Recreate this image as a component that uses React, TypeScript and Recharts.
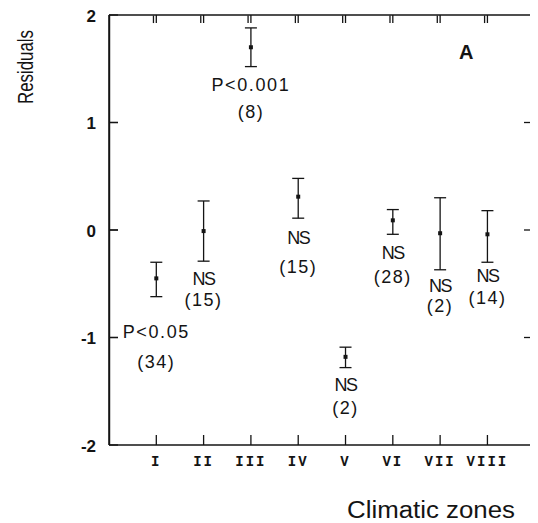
import React from "react";
import {
  ScatterChart,
  Scatter,
  XAxis,
  YAxis,
  ErrorBar,
  ReferenceDot,
  ReferenceLine,
} from "recharts";

// climatic zones on the x axis
const zones = ["I", "II", "III", "IV", "V", "VI", "VII", "VIII"];
const zonePos = [1, 2, 3, 4, 5, 6, 7, 8];

// residual means with upper / lower ends of the error bars
const means = [-0.45, -0.01, 1.7, 0.31, -1.18, 0.09, -0.03, -0.04];
const upper = [-0.3, 0.27, 1.88, 0.48, -1.09, 0.19, 0.3, 0.18];
const lower = [-0.62, -0.29, 1.52, 0.11, -1.28, -0.04, -0.37, -0.3];

// significance and sample size labels
const sigLabels = ["P<0.05", "NS", "P<0.001", "NS", "NS", "NS", "NS", "NS"];
const nLabels = ["(34)", "(15)", "(8)", "(15)", "(2)", "(28)", "(2)", "(14)"];
// where each label sits, in residual units
const sigLabelY = [-0.95, -0.46, 1.35, -0.07, -1.44, -0.21, -0.52, -0.43];
const nLabelY = [-1.23, -0.65, 1.1, -0.34, -1.66, -0.44, -0.71, -0.63];

const yTicks = [-2, -1, 0, 1, 2];
const innerYTicks = [-1, 0, 1];

const INK = "#141414";

const data = zonePos.map((x, i) => ({
  x,
  y: means[i],
  err: [means[i] - lower[i], upper[i] - means[i]],
}));

const BottomTick = (props: any) => {
  const { x, y, payload } = props;
  return (
    <text
      x={x}
      y={y}
      textAnchor="middle"
      dominantBaseline="central"
      fontFamily="Liberation Mono"
      fontWeight="bold"
      fontSize={14}
      letterSpacing={2}
      fill={INK}
    >
      {zones[payload.value - 1]}
    </text>
  );
};

const LeftTick = (props: any) => {
  const { x, y, payload } = props;
  const v = payload.value;
  return (
    <text
      x={x}
      y={y + 1}
      textAnchor="end"
      dominantBaseline="central"
      fontFamily="Liberation Sans"
      fontWeight="bold"
      fontSize={17}
      fill={INK}
    >
      {v < 0 ? "-" + Math.abs(v) : v}
    </text>
  );
};

const NoLabel = () => <g />;

const textShape = (txt: string, size: number, extra: any = {}) => (p: any) => (
  <text
    x={p.cx}
    y={p.cy}
    textAnchor="middle"
    dominantBaseline="central"
    fontFamily="Liberation Sans"
    fontSize={size}
    fill={INK}
    {...extra}
  >
    {txt}
  </text>
);

const Dot = (p: any) => (
  <rect x={p.cx - 2} y={p.cy - 2} width={4} height={4} fill={INK} />
);

// axis titles, placed from the x axis box
const AxisTitles = (p: any) => {
  const { x, y } = p.viewBox;
  const rx = x - 84;
  const ry = y - 378;
  return (
    <g>
      <text
        x={x + 322}
        y={y + 65}
        textAnchor="middle"
        dominantBaseline="central"
        fontFamily="Liberation Sans"
        fontSize={23}
        textLength={168}
        lengthAdjust="spacingAndGlyphs"
        fill={INK}
      >
        Climatic zones
      </text>
      <text
        x={rx}
        y={ry}
        textAnchor="middle"
        dominantBaseline="central"
        fontFamily="Liberation Sans"
        fontSize={22}
        textLength={74}
        lengthAdjust="spacingAndGlyphs"
        transform={`rotate(-90 ${rx} ${ry})`}
        fill={INK}
      >
        Residuals
      </text>
    </g>
  );
};

const tickStroke = { stroke: INK, strokeWidth: 1.3 };

export default function App() {
  return (
    <div style={{ position: "absolute", left: 0, top: 0 }}>
      <ScatterChart
        width={538}
        height={523}
        margin={{ top: 0, right: 0, bottom: 0, left: 0 }}
      >
        <XAxis
          type="number"
          dataKey="x"
          domain={[0, 8.9]}
          ticks={zonePos}
          height={78}
          tickSize={-10}
          tickMargin={27}
          tickLine={tickStroke}
          tick={<BottomTick />}
          stroke={INK}
          strokeWidth={1.5}
          label={{ content: AxisTitles }}
        />
        <XAxis
          xAxisId="top"
          orientation="top"
          type="number"
          dataKey="x"
          domain={[0, 8.9]}
          ticks={zonePos}
          height={15}
          tickSize={-8}
          tickLine={tickStroke}
          tick={<NoLabel />}
          stroke={INK}
          strokeWidth={1.5}
        />
        <YAxis
          type="number"
          dataKey="y"
          domain={[-2, 2]}
          ticks={yTicks}
          width={109}
          tickSize={-9}
          tickMargin={22}
          tickLine={tickStroke}
          tick={<LeftTick />}
          stroke={INK}
          strokeWidth={1.5}
        />
        <YAxis
          yAxisId="right"
          orientation="right"
          type="number"
          dataKey="y"
          domain={[-2, 2]}
          ticks={innerYTicks}
          width={8}
          tickSize={-6}
          tickLine={tickStroke}
          tick={<NoLabel />}
          axisLine={false}
          stroke={INK}
        />
        {/* left frame and inward ticks, drawn again through the scales */}
        <ReferenceLine x={0.01} stroke={INK} strokeWidth={1.5} />
        {innerYTicks.map((v) => (
          <ReferenceLine
            key={"ly" + v}
            segment={[
              { x: 0.01, y: v },
              { x: 0.19, y: v },
            ]}
            stroke={INK}
            strokeWidth={1.3}
          />
        ))}
        {zonePos.map((x) => (
          <ReferenceLine
            key={"tx" + x}
            segment={[
              { x: x - 0.06, y: 1.995 },
              { x: x - 0.06, y: 1.925 },
            ]}
            stroke={INK}
            strokeWidth={1.3}
          />
        ))}
        <Scatter data={data} shape={<Dot />} isAnimationActive={false}>
          <ErrorBar
            dataKey="err"
            direction="y"
            width={6}
            stroke={INK}
            strokeWidth={1.3}
            isAnimationActive={false}
          />
        </Scatter>
        <Scatter
          data={data}
          xAxisId="top"
          yAxisId="right"
          shape={() => <g />}
          isAnimationActive={false}
        />
        {zonePos.map((x, i) => (
          <ReferenceDot
            key={"s" + i}
            x={x}
            y={sigLabelY[i]}
            shape={textShape(sigLabels[i], 18, {
              letterSpacing: sigLabels[i] === "NS" ? -1.5 : 1.6,
            })}
          />
        ))}
        {zonePos.map((x, i) => (
          <ReferenceDot
            key={"n" + i}
            x={x}
            y={nLabelY[i]}
            shape={textShape(nLabels[i], 18, { letterSpacing: 1.5 })}
          />
        ))}
        <ReferenceDot
          x={7.55}
          y={1.66}
          shape={textShape("A", 20, { fontWeight: "bold" })}
        />
      </ScatterChart>
    </div>
  );
}
